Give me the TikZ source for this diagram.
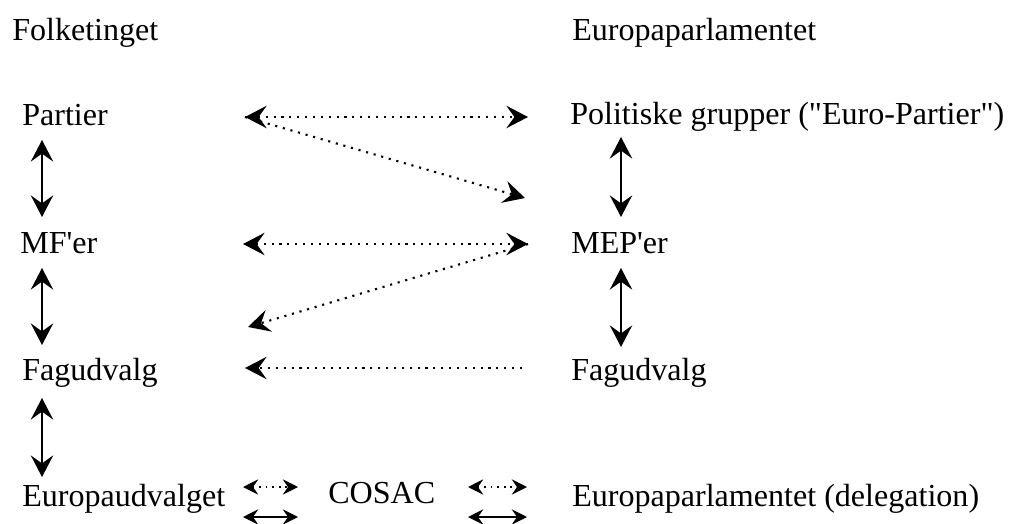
\documentclass[tikz,border=0pt]{standalone}
\usepackage{fontspec}
\setmainfont{Liberation Serif}
\usetikzlibrary{arrows.meta,positioning}
\tikzset{
  %% arrow tips
  bigtip/.tip={Stealth[length=5.4mm,width=5.6mm,inset=2mm]},
  smalltip/.tip={Stealth[length=3.8mm,width=3.8mm,inset=1.3mm]},
  %% organ labels
  lbl/.style={anchor=base west,inner sep=0pt,
    font=\fontsize{22.8}{27}\selectfont,text=black},
  %% solid two-way link inside a parliament
  arr/.style={{bigtip}-{bigtip},line width=1.3pt},
  %% dotted links between the parliaments
  darr/.style={line width=1.5pt,dash pattern=on 1.5pt off 4.1pt},
  %% small links round COSAC
  sarr/.style={{smalltip}-{smalltip},line width=1.3pt},
  sdarr/.style={sarr,dash pattern=on 1.3pt off 3.4pt},
}
\begin{document}
\begin{tikzpicture}[x=0.025cm,y=-0.025cm]
  \useasboundingbox[fill=white] (0,0) rectangle (1010,524);

  %% column heads
  \node[lbl] (ft) at (12,41)  {Folketinget};
  \node[lbl] (ep) at (572,41) {Europaparlamentet};

  %% Folketinget side
  \node[lbl] (partier) at (22,126) {Partier};
  \node[lbl] (mfer)    at (20,253) {MF\textquotesingle er};
  \node[lbl] (fagL)    at (22,380) {Fagudvalg};
  \node[lbl] (euu)     at (22,506) {Europaudvalget};

  %% Europaparlamentet side
  \node[lbl] (grupper) at (570,125) {Politiske grupper (\textquotedbl Euro-Partier\textquotedbl)};
  \node[lbl] (meper)   at (571,253) {MEP\textquotesingle er};
  \node[lbl] (fagR)    at (571,380) {Fagudvalg};
  \node[lbl] (deleg)   at (572,506) {Europaparlamentet (delegation)};

  \node[lbl] (cosac)   at (328,503) {COSAC};

  %% arrow ends
  \coordinate (pT) at (42,140);  \coordinate (mT) at (42,217);
  \coordinate (mB) at (42,268);  \coordinate (fT) at (42,345);
  \coordinate (fB) at (42,398);  \coordinate (eT) at (42,477);
  \coordinate (gB) at (621,137); \coordinate (epT) at (621,217);
  \coordinate (epB) at (621,268); \coordinate (frT) at (621,347);

  \coordinate (pL) at (245,117);  \coordinate (pR) at (528,117);
  \coordinate (mL) at (243,244);  \coordinate (mR) at (528,244);
  \coordinate (dR) at (525,198);  \coordinate (dL) at (248,327);
  \coordinate (fL) at (245,368);  \coordinate (fR) at (522,368);

  \coordinate (c1a) at (243,487); \coordinate (c1b) at (298,487);
  \coordinate (c2a) at (243,517); \coordinate (c2b) at (298,517);
  \coordinate (c3a) at (468,487); \coordinate (c3b) at (527,487);
  \coordinate (c4a) at (468,517); \coordinate (c4b) at (527,517);

  %% links inside each parliament
  \draw[arr] (pT)--(mT);
  \draw[arr] (mB)--(fT);
  \draw[arr] (fB)--(eT);
  \draw[arr] (gB)--(epT);
  \draw[arr] (epB)--(frT);

  %% links between the parliaments
  \draw[darr,{bigtip}-{bigtip}] (pL)--(pR);
  \draw[darr,-{bigtip}]  (pL)--(dR);
  \draw[darr,{bigtip}-{bigtip}] (mL)--(mR);
  \draw[darr,-{bigtip}]  (mR)--(dL);
  \draw[darr,-{bigtip}]  (fR)--(fL);

  %% COSAC
  \draw[sdarr] (c1a)--(c1b);
  \draw[sarr]  (c2a)--(c2b);
  \draw[sdarr] (c3a)--(c3b);
  \draw[sarr]  (c4a)--(c4b);
\end{tikzpicture}
\end{document}
